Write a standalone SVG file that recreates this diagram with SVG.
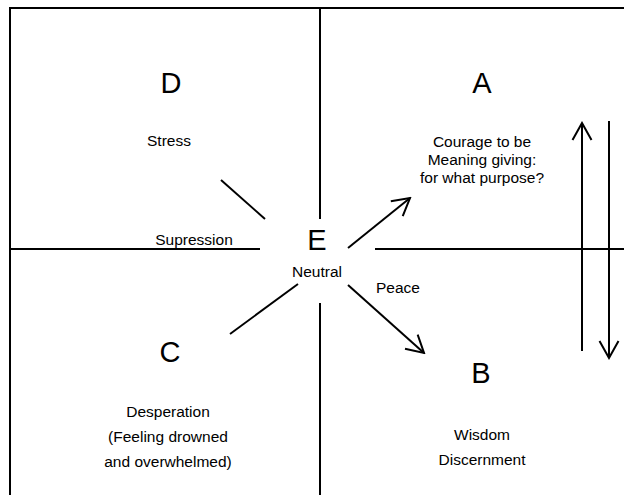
<svg xmlns="http://www.w3.org/2000/svg" width="624" height="495" viewBox="0 0 624 495">
<style>
.ln{stroke:#000;stroke-width:2;fill:none}
.big{font-family:"Liberation Sans",Arial,sans-serif;font-size:29px;fill:#000;text-anchor:middle}
.sm{font-family:"Liberation Sans",Arial,sans-serif;font-size:15.5px;fill:#000;text-anchor:middle}
</style>
<defs>
<marker id="ah" viewBox="-20 -12 22 24" markerWidth="22" markerHeight="24" refX="0" refY="0" orient="auto" markerUnits="userSpaceOnUse">
<path d="M-17,-9.5 L0,0 L-17,9.5" fill="none" stroke="#000" stroke-width="2"/>
</marker>
</defs>
<rect width="624" height="495" fill="#fff"/>
<g id="frame">
<path class="ln" d="M10,495 V8 H624"/>
<path class="ln" d="M320,8 V219 M320,303 V495"/>
<path class="ln" d="M10,249 H260 M375,249 H624"/>
</g>
<g id="connectors">
<line class="ln" x1="221" y1="180" x2="265" y2="219"/>
<line class="ln" x1="298" y1="284" x2="230" y2="334"/>
<line class="ln" x1="348" y1="248" x2="410" y2="198" marker-end="url(#ah)"/>
<line class="ln" x1="348" y1="285" x2="424" y2="353" marker-end="url(#ah)"/>
<line class="ln" x1="582" y1="351" x2="582" y2="123" marker-end="url(#ah)"/>
<line class="ln" x1="609" y1="121" x2="609" y2="358" marker-end="url(#ah)"/>
</g>
<g id="nodeD">
<text class="big" x="171" y="93">D</text>
<text class="sm" x="169" y="146">Stress</text>
</g>
<g id="nodeA">
<text class="big" x="482" y="93">A</text>
<text class="sm" x="482" y="147">Courage to be</text>
<text class="sm" x="482" y="165">Meaning giving:</text>
<text class="sm" x="482" y="183">for what purpose?</text>
</g>
<g id="nodeE">
<text class="big" x="317" y="250">E</text>
<text class="sm" x="317" y="277">Neutral</text>
</g>
<g id="labelSupression">
<text class="sm" x="194" y="245">Supression</text>
</g>
<g id="labelPeace">
<text class="sm" x="398" y="293">Peace</text>
</g>
<g id="nodeC">
<text class="big" x="170" y="362">C</text>
<text class="sm" x="168" y="417">Desperation</text>
<text class="sm" x="168" y="442">(Feeling drowned</text>
<text class="sm" x="168" y="467">and overwhelmed)</text>
</g>
<g id="nodeB">
<text class="big" x="481" y="383">B</text>
<text class="sm" x="482" y="440">Wisdom</text>
<text class="sm" x="482" y="465">Discernment</text>
</g>
</svg>
